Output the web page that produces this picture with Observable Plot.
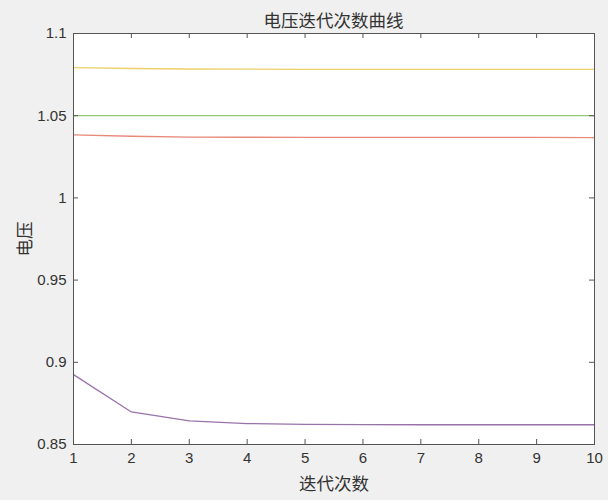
<!DOCTYPE html>
<html><head><meta charset="utf-8">
<script src="https://cdn.jsdelivr.net/npm/d3@7"></script>
<script src="https://cdn.jsdelivr.net/npm/@observablehq/plot@0.6"></script>
<style>
html,body{margin:0;padding:0;background:#f0f0f0;width:608px;height:500px;overflow:hidden;position:relative;}
#title{position:absolute;top:7px;left:73px;width:521px;height:22px;line-height:22px;font:17.5px "Noto Sans CJK SC",sans-serif;color:#333;text-align:center;}
#chart{position:absolute;top:25px;left:0;}
</style></head>
<body>
<div id="title">电压迭代次数曲线</div>
<div id="chart"></div>
<script>
const iterations = [1,2,3,4,5,6,7,8,9,10];
const seriesYellow = [1.0792,1.0787,1.0784,1.0783,1.0782,1.0782,1.0782,1.0782,1.0782,1.0782];
const seriesGreen  = [1.0500,1.0500,1.0500,1.0500,1.0500,1.0500,1.0500,1.0500,1.0500,1.0500];
const seriesRed    = [1.0383,1.0375,1.0370,1.0369,1.0368,1.0368,1.0368,1.0368,1.0368,1.0367];
const seriesPurple = [0.8925,0.8698,0.8644,0.8627,0.8623,0.8621,0.8620,0.8620,0.8620,0.8620];
const xTicks = [1,2,3,4,5,6,7,8,9,10];
const yTicks = [0.85,0.9,0.95,1,1.05,1.1];
const seriesList = [
  {values: seriesYellow, color:"#ecd06a"},
  {values: seriesGreen,  color:"#94c878"},
  {values: seriesRed,    color:"#e88a7a"},
  {values: seriesPurple, color:"#9a72aa"}
];

const W = 608, H = 475, mL = 73, mR = 14, mT = 8, mB = 56;
const plotW = W - mL - mR, plotH = H - mT - mB, tickLen = 5;
const fmt = d3.format("~g");
const tickColor = "#555";
const lineMarks = seriesList.map(s =>
  Plot.line(iterations, {x:d=>d, y:(d,i)=>s.values[i], stroke:s.color, strokeWidth:1.3}));
const chart = Plot.plot({
  width:W, height:H,
  marginLeft:mL, marginRight:mR, marginTop:mT, marginBottom:mB,
  style:{background:"transparent", fontFamily:"'Liberation Sans', Arial, sans-serif", fontSize:"15px", color:"#333"},
  x:{domain:[1,10]},
  y:{domain:[0.85,1.1]},
  marks:[
    Plot.frame({fill:"white", stroke:"none"}),
    ...lineMarks,
    Plot.tickX(xTicks, {x:d=>d, stroke:tickColor, insetTop:plotH - tickLen}),
    Plot.tickX(xTicks, {x:d=>d, stroke:tickColor, insetBottom:plotH - tickLen}),
    Plot.tickY(yTicks, {y:d=>d, stroke:tickColor, insetRight:plotW - tickLen}),
    Plot.tickY(yTicks, {y:d=>d, stroke:tickColor, insetLeft:plotW - tickLen}),
    Plot.axisX({ticks:xTicks, tickFormat:fmt, tickSize:0, tickPadding:8, fontSize:15, color:"#333", label:"迭代次数", labelAnchor:"center", labelOffset:45, labelArrow:"none"}),
    Plot.axisY({ticks:yTicks, tickFormat:fmt, tickSize:0, tickPadding:7, fontSize:15, color:"#333", label:"电压", labelAnchor:"center", labelOffset:55, labelArrow:"none"}),
    Plot.frame({stroke:tickColor, strokeWidth:1})
  ]
});
d3.select(chart).selectAll("g[aria-label='x-axis label'] text, g[aria-label='y-axis label'] text")
  .style("font-family","'Noto Sans CJK SC', sans-serif").style("font-size","17.5px").style("fill","#333");
document.getElementById("chart").appendChild(chart);
</script>
</body></html>
